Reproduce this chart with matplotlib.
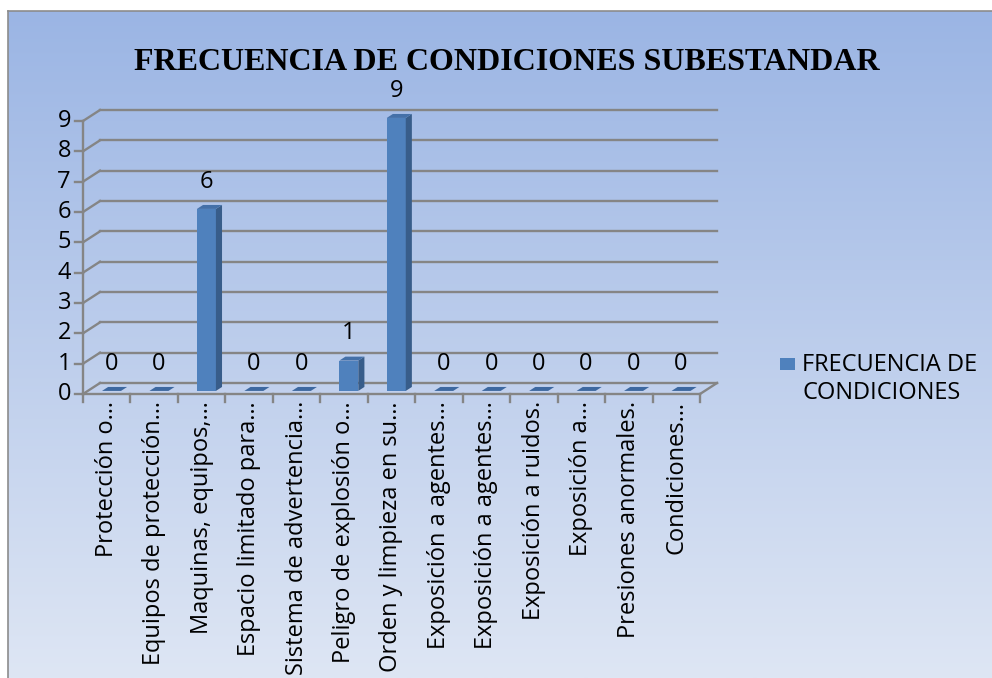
import numpy as np
import matplotlib.pyplot as plt
from matplotlib.patches import Polygon, Rectangle

categories = [
    "Protección o…",
    "Equipos de protección…",
    "Maquinas, equipos,…",
    "Espacio limitado para…",
    "Sistema de advertencia…",
    "Peligro de explosión o…",
    "Orden y limpieza en su…",
    "Exposición a agentes…",
    "Exposición a agentes…",
    "Exposición a ruidos.",
    "Exposición a…",
    "Presiones anormales.",
    "Condiciones…",
]
values = [0, 0, 6, 0, 0, 1, 9, 0, 0, 0, 0, 0, 0]
y_ticks = list(range(10))
title = "FRECUENCIA DE CONDICIONES SUBESTANDAR"
legend_label = "FRECUENCIA DE\nCONDICIONES"

W, H = 992, 678
FONT = "Open Sans"
FS = 17
GRID = "#858585"

fig = plt.figure(figsize=(W / 100, H / 100), dpi=100)
fig.patch.set_facecolor("white")

# gradient background panel
bg = fig.add_axes([8 / W, 0, 1 - 8 / W, (H - 11) / H])
top_c = np.array([155, 181, 228]) / 255
bot_c = np.array([222, 230, 244]) / 255
t = np.linspace(0, 1, 256)[:, None, None]
bg.imshow(top_c + (bot_c - top_c) * t, aspect="auto", extent=[0, 1, 0, 1])
bg.set_xticks([])
bg.set_yticks([])
for s in ["right", "bottom"]:
    bg.spines[s].set_visible(False)
for s in ["left", "top"]:
    bg.spines[s].set_color("#8c8c8c")
    bg.spines[s].set_linewidth(1.2)

# plot area (front floor edge / front y axis)
ax = fig.add_axes([83 / W, (H - 394) / H, 617 / W, 273 / H])
ax.set_xlim(-0.5, len(categories) - 0.5)
ax.set_ylim(0, 9)
ax.axis("off")
sx = 617 / len(categories)   # px per category
sy = 273 / 9                 # px per unit
DX = 17 / sx
DY = 11 / sy
x0, x1 = -0.5, len(categories) - 0.5

# back wall gridlines + side wall diagonals
for v in y_ticks:
    ax.plot([x0 + DX, x1 + DX], [v + DY, v + DY], color=GRID, lw=1.7, clip_on=False, zorder=1)
    ax.plot([x0, x0 + DX], [v, v + DY], color=GRID, lw=1.7, clip_on=False, zorder=1)
    ax.plot([x0 - 8 / sx, x0], [v, v], color=GRID, lw=1.7, clip_on=False, zorder=1)
    ax.text(x0 - 12 / sx, v, str(v), ha="right", va="center", fontsize=FS,
            family=FONT, clip_on=False)

ax.plot([x0, x0], [0, 9], color=GRID, lw=1.7, clip_on=False, zorder=1)
ax.plot([x0, x1], [0, 0], color=GRID, lw=1.7, clip_on=False, zorder=1)
ax.plot([x1, x1 + DX], [0, DY], color=GRID, lw=1.7, clip_on=False, zorder=1)
for b in np.arange(x0, x1 + 0.01, 1):
    ax.plot([b, b], [0, -8 / sy], color=GRID, lw=1.7, clip_on=False, zorder=1)

# bars with fake 3d faces
bw, f, depth = 0.4, 0.28, 0.36
for i, v in enumerate(values):
    xl = i - bw / 2 + f * DX
    xr = xl + bw
    yb = f * DY
    yt = v + f * DY
    ddx, ddy = depth * DX, depth * DY
    if v > 0:
        ax.add_patch(Rectangle((xl, yb), bw, v, facecolor="#4F81BD", edgecolor="none",
                               zorder=3, clip_on=False))
        ax.add_patch(Polygon([(xr, yb), (xr + ddx, yb + ddy), (xr + ddx, yt + ddy), (xr, yt)],
                             facecolor="#385D8A", edgecolor="none", zorder=3, clip_on=False))
    ax.add_patch(Polygon([(xl, yt), (xr, yt), (xr + ddx, yt + ddy), (xl + ddx, yt + ddy)],
                         facecolor="#4470A8" if v > 0 else "#3D68A0", edgecolor="none",
                         zorder=3, clip_on=False))
    ax.text(i + f * DX, v + 1.0, str(v), ha="center", va="center", fontsize=FS,
            family=FONT, clip_on=False, zorder=4)
    ax.text(i, -7 / sy, categories[i], rotation=90, ha="center", va="top",
            fontsize=FS, family=FONT, clip_on=False)

fig.text(507 / W, 1 - 63 / H, title, ha="center", va="center", fontsize=23,
         family="Liberation Serif", fontweight="bold")

# legend
fig.add_artist(Rectangle((780 / W, 1 - 370 / H), 15 / W, 12 / H, facecolor="#4F81BD",
                         edgecolor="none", transform=fig.transFigure))
fig.text(802 / W, 1 - 379 / H, legend_label, ha="left", va="center", fontsize=FS,
         family=FONT, linespacing=1.2)

fig.savefig("out.png", dpi=100)
